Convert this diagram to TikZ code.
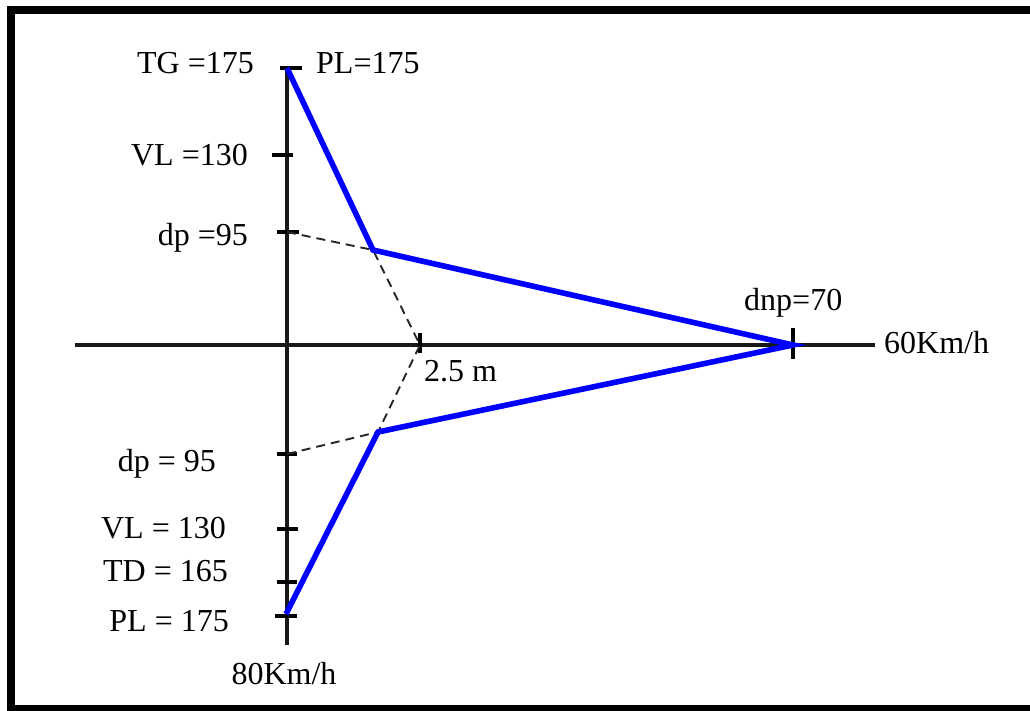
\documentclass[tikz,border=0pt]{standalone}
\usepackage{fontspec}
\setmainfont{Liberation Serif}
\begin{document}
\begin{tikzpicture}[x=1pt,y=-1pt,
  axis/.style={line width=3.2pt,black!90},
  tickmark/.style={line width=3.2pt,black},
  road/.style={line width=5.6pt,blue,line join=miter},
  guide/.style={line width=1.9pt,black!85,dash pattern=on 9pt off 6pt},
  lab/.style={font=\fontsize{32}{34}\selectfont,inner sep=0pt}]
\useasboundingbox (0,0) rectangle (1030,711);
\draw[line width=8pt] (1030,10) -- (10.5,10) -- (10.5,709) -- (1030,709);
% axes
\coordinate (Vtop) at (287,68);
\coordinate (Vbot) at (287,645);
\coordinate (Hl) at (75,345);
\coordinate (Hr) at (875,345);
\draw[axis] (Vtop) -- (Vbot);
\draw[axis] (Hl) -- (Hr);
% key points
\coordinate (A1) at (373,250);
\coordinate (E) at (793,345);
\coordinate (A2) at (378,432);
\coordinate (B) at (286,614);
\coordinate (M) at (420,345);
\coordinate (dpT) at (287,232);
\coordinate (dpB) at (287,454);
% ticks
\draw[tickmark] (280,68) -- (302,68);
\draw[tickmark] (272,155) -- (293,155);
\draw[tickmark] (277,232) -- (299,232);
\draw[tickmark] (277,454) -- (297,454);
\draw[tickmark] (277,529) -- (298,529);
\draw[tickmark] (277,582) -- (297,582);
\draw[tickmark] (275,616) -- (297,616);
\draw[tickmark] (420,333) -- (420,353);
\draw[tickmark] (793,328) -- (793,359);
% dashed guides
\draw[guide] (dpT) -- (A1) -- (M) -- (A2) -- (dpB);
% blue line
\draw[road] (Vtop) -- (A1) -- (E) -- (A2) -- (B);
% labels
\node[lab,anchor=base east] (tg) at (254,74) {TG =175};
\node[lab,anchor=base west] (plt) at (316,74) {PL=175};
\node[lab,anchor=base east] (vlt) at (248,166) {VL =130};
\node[lab,anchor=base east] (dpt) at (248,246) {dp =95};
\node[lab,anchor=base west] (dnp) at (744,310) {dnp=70};
\node[lab,anchor=base west] (s60) at (884,353) {60Km/h};
\node[lab,anchor=base west] (m25) at (424,381) {2.5 m};
\node[lab,anchor=base east] (dpb) at (216,471) {dp = 95};
\node[lab,anchor=base east] (vlb) at (226,538) {VL = 130};
\node[lab,anchor=base east] (td) at (228,581) {TD = 165};
\node[lab,anchor=base east] (plb) at (229,631) {PL = 175};
\node[lab,anchor=base] (s80) at (284,684) {80Km/h};
\end{tikzpicture}
\end{document}
